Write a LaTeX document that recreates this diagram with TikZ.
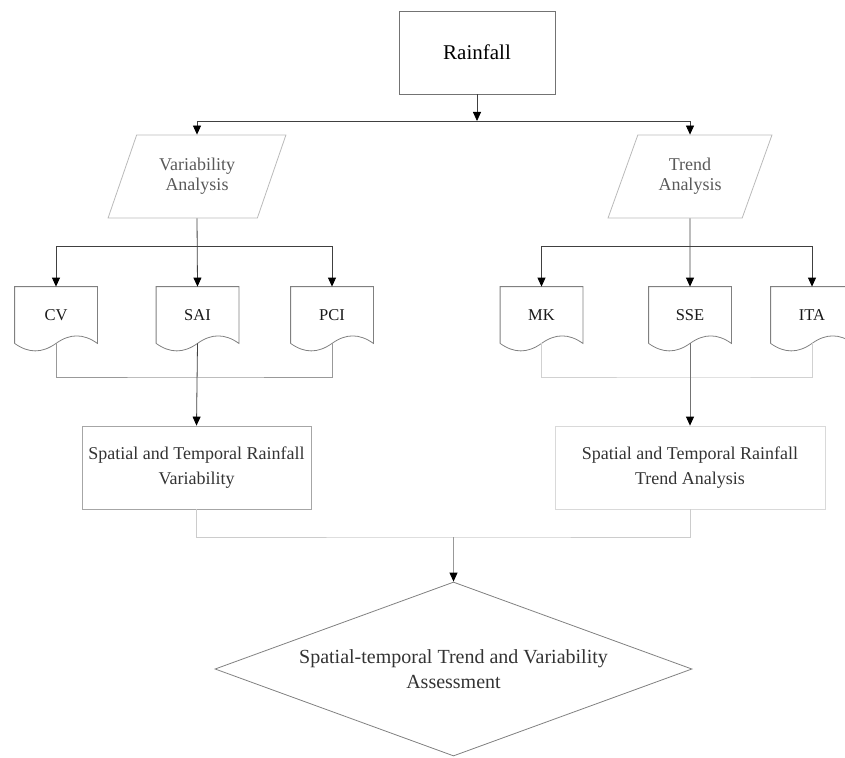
\documentclass[tikz,border=0pt]{standalone}
\usepackage{fontspec}
\setmainfont{Liberation Serif}
\usetikzlibrary{arrows.meta,shapes.geometric}

% document symbol with a wavy bottom edge
\newcommand{\docwave}[2]{%
  \draw[#2] (#1.south west) -- (#1.north west) -- (#1.north east) -- (#1.south east)
    .. controls +(-14,-10) and +(14,-10) .. (#1.south)
    .. controls +(-14,10) and +(14,10) .. (#1.south west);}

\begin{document}
\begin{tikzpicture}[x=1pt,y=-1pt,
  txt/.style={font=\fontsize{18}{24.5}\selectfont,align=center,text=black!80},
  arr/.style={-{Triangle[length=9pt,width=8pt,color=black]}},
  plainbox/.style={draw,rectangle,inner sep=0pt,txt},
  para/.style={trapezium,trapezium left angle=63.7,trapezium right angle=116.3,
    trapezium stretches=true,draw=black!27,minimum height=83pt,inner sep=0pt,
    align=center,font=\fontsize{18}{20}\selectfont,text=black!65},
  docbox/.style={minimum width=82pt,minimum height=56pt,inner sep=0pt,
    font=\fontsize{16.5}{16.5}\selectfont,text=black!90},
  line width=0.8pt]
\useasboundingbox (0,0) rectangle (845,757);

\node[plainbox,draw=black!55,minimum width=156pt,minimum height=83pt,
  font=\fontsize{21}{21}\selectfont,text=black] (rain) at (477,52.5) {Rainfall};

\node[para,minimum width=178pt] (varA) at (197,176.5) {Variability\\Analysis};
\node[para,minimum width=164pt] (trnd) at (690,176.5) {Trend\\Analysis};

\node[docbox] (cv) at (56,315) {CV};
\node[docbox] (sai) at (197.5,315) {SAI};
\node[docbox] (pci) at (332,315) {PCI};
\node[docbox] (mk) at (541.5,315) {MK};
\node[docbox] (sse) at (690,315) {SSE};
\node[docbox] (ita) at (812,315) {ITA};
\docwave{cv}{black!50}
\docwave{sai}{black!50}
\docwave{pci}{black!50}
\docwave{mk}{black!50}
\docwave{sse}{black!50}
\docwave{ita}{black!50}

\node[plainbox,draw=black!35,minimum width=229pt,minimum height=83pt] (spv) at (196.5,467.5)
  {Spatial and Temporal Rainfall\\Variability};
\node[plainbox,draw=black!15,minimum width=270pt,minimum height=83pt] (spt) at (690,467.5)
  {Spatial and Temporal Rainfall\\Trend Analysis};

\node[diamond,aspect=2.74,draw=black!50,minimum width=477pt,minimum height=174pt,
  inner sep=0pt,txt,font=\fontsize{20}{25}\selectfont] (assess) at (453.5,669)
  {Spatial-temporal Trend and Variability\\Assessment};

\coordinate (hub) at (477,121);
\coordinate (vfork) at (197,246);
\coordinate (tfork) at (690,246);
\coordinate (vjoin) at (197,377);
\coordinate (tjoin) at (690,377);
\coordinate (bjoin) at (453.5,537);

% rainfall to both analyses
\draw[arr,black!75] (rain) -- (hub);
\draw[arr,black!75] (hub) -| (varA.north);
\draw[arr,black!75] (hub) -| (trnd.north);

% variability branch
\draw[arr,black!75] (varA.south) -- (sai.north);
\draw[arr,black!75] (vfork) -| (cv.north);
\draw[arr,black!75] (vfork) -| (pci.north);
\draw[black!40] (cv.south) |- (vjoin) -| (pci.south);
\draw[arr,black!75] (sai.south) -- (spv.north);

% trend branch
\draw[arr,black!75] (trnd.south) -- (sse.north);
\draw[arr,black!75] (tfork) -| (mk.north);
\draw[arr,black!75] (tfork) -| (ita.north);
\draw[black!18] (mk.south) |- (tjoin) -| (ita.south);
\draw[arr,black!55] (sse.south) -- (spt.north);

% assessment
\draw[black!20] (spv.south) |- (bjoin) -| (spt.south);
\draw[arr,black!40] (bjoin) -- (assess.north);
\end{tikzpicture}
\end{document}
